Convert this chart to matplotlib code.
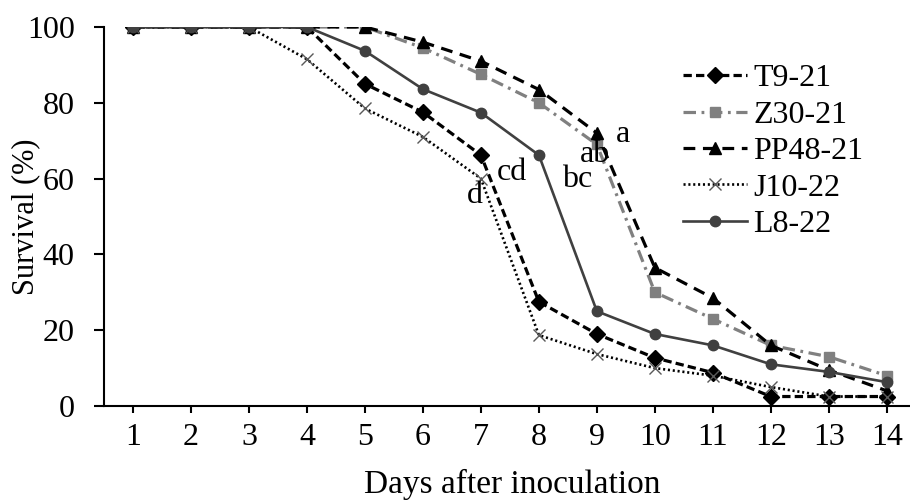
import matplotlib
matplotlib.use("Agg")
import matplotlib.pyplot as plt

plt.rcParams["font.family"] = ["Liberation Serif", "DejaVu Serif"]
plt.rcParams["lines.scale_dashes"] = False

days = list(range(1, 15))
t9_21 = [100, 100, 100, 100, 85, 77.5, 66.2, 27.5, 19, 12.7, 8.8, 2.5, 2.5, 2.5]
z30_21 = [100, 100, 100, 100, 100, 94.5, 87.5, 80, 69, 30, 23, 16, 13, 8]
pp48_21 = [100, 100, 100, 100, 100, 96, 91, 83.5, 72, 36.5, 28.5, 16, 9.5, 4]
j10_22 = [100, 100, 100, 91.5, 78.5, 71, 60, 18.7, 13.7, 10, 8, 5, 2.5, 2.5]
l8_22 = [100, 100, 100, 100, 93.7, 83.6, 77.4, 66.2, 25, 19, 16, 11, 9, 6.3]

letters = ["a", "ab", "bc", "cd", "d"]
letter_x = [9.45, 8.97, 8.66, 7.53, 6.9]
letter_y = [69.7, 64.4, 57.8, 59.6, 53.6]

FS = 23

fig = plt.figure(figsize=(9.1, 5), dpi=100)
ax = fig.add_axes([104 / 910, 94 / 500, 806 / 910, 379 / 500])

ax.plot(days, t9_21, color="black", lw=2.3, dashes=(6, 3),
        marker="D", ms=8.5, mfc="black", mec="black", label="T9-21")
ax.plot(days, z30_21, color="#808080", lw=2.3, dashes=(9, 4, 2, 4),
        marker="s", ms=7.5, mfc="#808080", mec="#808080", label="Z30-21")
ax.plot(days, pp48_21, color="black", lw=2.3, dashes=(8.5, 5.5),
        marker="^", ms=8.5, mfc="black", mec="black", label="PP48-21")
ax.plot(days, j10_22, color="black", lw=1.9, dashes=(1.5, 2),
        marker="x", ms=9, mec="#595959", mew=1.0, label="J10-22")
ax.plot(days, l8_22, color="#404040", lw=1.9,
        marker="o", ms=7.5, mfc="#404040", mec="#404040", label="L8-22")

for s, x, y in zip(letters, letter_x, letter_y):
    ax.text(x, y, s, ha="center", va="baseline", fontsize=FS)

ax.set_xlim(0.5, 14.4)
ax.set_ylim(0, 100)
ax.set_xticks(days)
ax.set_yticks(range(0, 101, 20))
ax.spines["top"].set_visible(False)
ax.spines["right"].set_visible(False)
for side in ("left", "bottom"):
    ax.spines[side].set_linewidth(1.5)
ax.tick_params(axis="y", length=7, width=1.5, pad=14, labelsize=FS)
ax.tick_params(axis="x", length=5, width=1.5, pad=7, labelsize=FS)

ax.set_ylabel("Survival (%)", fontsize=22)
ax.yaxis.set_label_coords(-0.079, 0.5)
ax.set_xlabel("Days after inoculation", fontsize=24)
ax.xaxis.set_label_coords(0.507, -0.165)

fig.legend(loc="upper left", bbox_to_anchor=(683 / 910, 1 - 64 / 500),
           frameon=False, fontsize=FS, handlelength=2.0, handletextpad=0.2,
           labelspacing=0.22, borderpad=0, borderaxespad=0, numpoints=1)

fig.savefig("out.png", dpi=100)
